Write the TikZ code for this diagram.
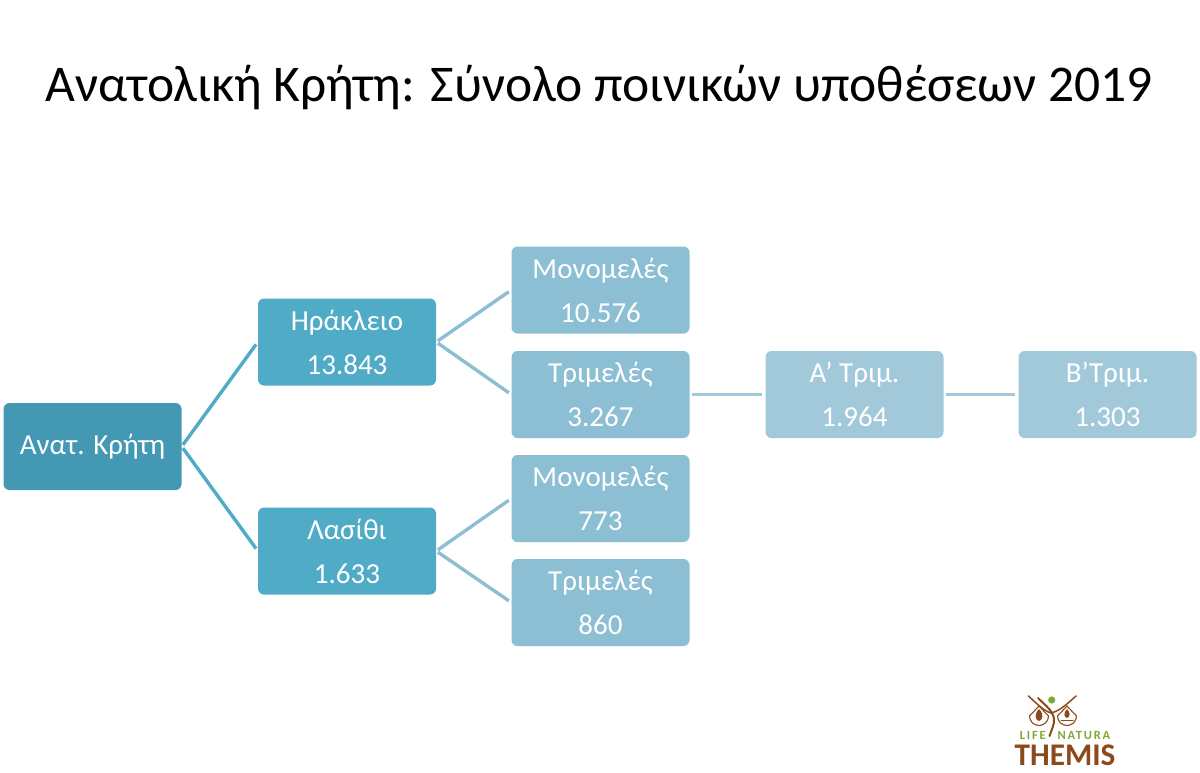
\documentclass[tikz,border=0pt]{standalone}
\usepackage{fontspec}
\setmainfont{Carlito}
\newfontfamily\lifefont[LetterSpace=14]{Carlito}
\definecolor{rootc}{HTML}{4398B3}
\definecolor{midc}{HTML}{50ABC7}
\definecolor{leafc}{HTML}{8CBFD3}
\definecolor{farc}{HTML}{A2C9DA}
\definecolor{lgreen}{HTML}{7FA836}
\definecolor{lbrown}{HTML}{8B4A1C}
\tikzset{
  box/.style={rounded corners=6pt,minimum width=178pt,minimum height=87pt,inner sep=0pt,
    align=center,text=white,font=\fontsize{29}{44}\selectfont},
  link/.style={line width=3.4pt,shorten >=3pt,shorten <=2pt},
  logoline/.style={draw=lbrown,line width=1.3pt,line cap=round,fill=none}
}
\begin{document}
\begin{tikzpicture}[x=1pt,y=-1pt]
\useasboundingbox (0,0) rectangle (1200,772);
\node[anchor=center,font=\fontsize{51.5}{56}\selectfont,inner sep=0pt] (title) at (599,87.5) {Ανατολική Κρήτη: Σύνολο ποινικών υποθέσεων 2019};
\node[box,fill=rootc] (root) at (92.5,446.5) {Ανατ. Κρήτη};
\node[box,fill=midc] (her) at (347,342) {Ηράκλειο\\13.843};
\node[box,fill=midc] (las) at (347,551) {Λασίθι\\1.633};
\node[box,fill=leafc] (m1) at (600.5,290) {Μονομελές\\10.576};
\node[box,fill=leafc] (t1) at (600.5,394.5) {Τριμελές\\3.267};
\node[box,fill=leafc] (m2) at (600.5,498.5) {Μονομελές\\773};
\node[box,fill=leafc] (t2) at (600.5,602.5) {Τριμελές\\860};
\node[box,fill=farc] (a) at (854.5,394.5) {Α’ Τριμ.\\1.964};
\node[box,fill=farc] (b) at (1107.5,394.5) {Β’Τριμ.\\1.303};
\draw[link,midc] (root.east) -- (her.west);
\draw[link,midc] (root.east) -- (las.west);
\draw[link,leafc] (her.east) -- (m1.west);
\draw[link,leafc] (her.east) -- (t1.west);
\draw[link,leafc] (las.east) -- (m2.west);
\draw[link,leafc] (las.east) -- (t2.west);
\draw[link,farc] (t1.east) -- (a.west);
\draw[link,farc] (a.east) -- (b.west);
% logo
\draw[logoline,line width=1.5pt] (1028.5,696) .. controls (1036,703) and (1044,711) .. (1051,713) .. controls (1060,711) and (1068,703) .. (1076,696);
\draw[logoline,line width=2pt] (1038,698) .. controls (1046,706) and (1055,712) .. (1054,722) .. controls (1053,728) and (1051,731) .. (1049.5,736);
\fill[lgreen] (1051.7,700) circle (3.6);
\draw[logoline,line width=1.1pt] (1029.5,716) -- (1039,706) -- (1048.5,716) arc[start angle=0,end angle=180,radius=9.5] -- cycle;
\draw[logoline,line width=1.1pt] (1057.5,716) -- (1067,706) -- (1076.5,716) arc[start angle=0,end angle=180,radius=9.5] -- cycle;
\fill[lbrown] (1039,709) .. controls (1034,714) and (1035,720) .. (1039,721) .. controls (1043,720) and (1044,714) .. (1039,709);
\fill[lbrown] (1067,709) .. controls (1063,713) and (1064,717) .. (1067,718) .. controls (1070,717) and (1071,713) .. (1067,709);
\draw[logoline,line width=1pt] (1061,720) -- (1073,720);
\node[inner sep=0pt,text=lgreen,font=\fontsize{12.5}{13}\lifefont\bfseries,anchor=center] (lifetext) at (1065,735) {LIFE\hspace{12pt}NATURA};
\node[inner sep=0pt,text=lbrown,font=\fontsize{30}{30}\selectfont\bfseries,anchor=center] (themis) at (1065,755) {\scalebox{1.04}[1.05]{THEMIS}};
\end{tikzpicture}
\end{document}
